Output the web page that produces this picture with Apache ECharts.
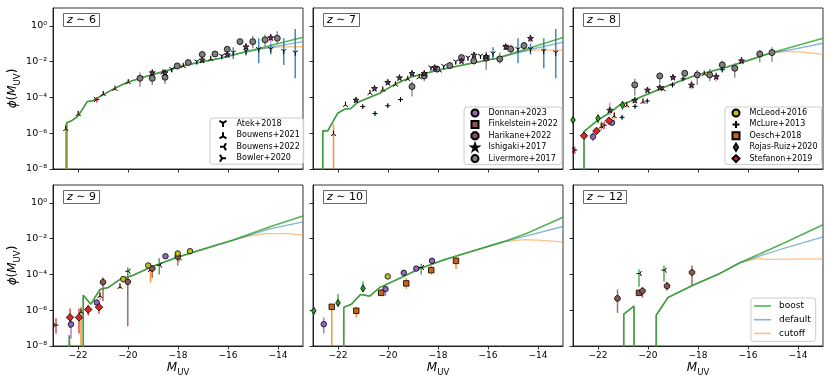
<!DOCTYPE html>
<html>
<head>
<meta charset="utf-8">
<script src="https://cdn.jsdelivr.net/npm/echarts@6/dist/echarts.min.js"></script>
<style>
  html, body { margin: 0; padding: 0; background: #fff; }
  #chart { width: 830px; height: 388px; }
</style>
</head>
<body>
<div id="chart"></div>
<script>
// model curves: [M_UV, log10 phi]  (-10 = below the plot, i.e. zero)
var base6 = [[-22.45,-10],[-22.45,-5.41],[-22.25,-5.30],[-21.99,-5.03],[-21.63,-4.23],[-21.39,-4.18],[-21.12,-3.95],[-20.52,-3.48],[-20.05,-3.17],[-19.39,-2.87],[-18.45,-2.50],[-17.65,-2.18],[-16.32,-1.81],[-15.5,-1.52]]
var boost6 = base6.concat([[-14.72,-1.25],[-13,-0.63]])
var default6 = base6.concat([[-14.72,-1.30],[-13,-0.88]])
var cutoff6 = base6.concat([[-14.5,-1.24],[-13.8,-1.17],[-13,-1.16]])

var base7 = [[-22.61,-10],[-22.61,-5.87],[-22.41,-5.87],[-22.01,-4.88],[-21.74,-4.66],[-21.48,-4.61],[-21.21,-4.27],[-20.34,-3.77],[-19.68,-3.23],[-19.01,-2.83],[-18.3,-2.58],[-17.8,-2.42],[-16.7,-2.1],[-15.66,-1.81]]
var boost7 = base7.concat([[-14.3,-1.22],[-13,-0.65]])
var default7 = base7.concat([[-14.3,-1.32],[-13,-0.91]])
var cutoff7 = base7.concat([[-14.8,-1.47],[-14.3,-1.36],[-13,-1.36]])

var base8 = [[-22.56,-10],[-22.56,-5.91],[-22.0,-5.26],[-21.46,-4.79],[-21.13,-4.42],[-20.73,-4.23],[-19.93,-3.77],[-19.13,-3.30],[-18.06,-2.74],[-17.0,-2.37],[-15.93,-1.90],[-15.13,-1.53]]
var boost8 = base8.concat([[-14.1,-1.12],[-13,-0.69]])
var default8 = base8.concat([[-14.1,-1.28],[-13,-0.97]])
var cutoff8 = base8.concat([[-14.5,-1.42],[-13.8,-1.47],[-13,-1.59]])

var base9 = [[-22.35,-10],[-22.35,-7.4],[-22.3,-10],[-21.79,-10],[-21.79,-5.16],[-21.49,-5.66],[-21.12,-4.84],[-20.79,-4.73],[-20.32,-4.28],[-19.79,-4.04],[-19.12,-3.61],[-18.05,-3.05],[-17.12,-2.64],[-15.79,-2.08]]
var boost9 = base9.concat([[-14.32,-1.34],[-13,-0.73]])
var default9 = base9.concat([[-14.32,-1.45],[-13,-1.06]])
var cutoff9 = base9.concat([[-15.2,-1.86],[-14.5,-1.72],[-13.6,-1.72],[-13,-1.80]])

var base10 = [[-21.77,-10],[-21.77,-5.84],[-21.46,-5.66],[-21.10,-5.12],[-20.73,-5.21],[-20.33,-4.73],[-19.4,-4.13],[-18.73,-3.67],[-17.8,-3.20],[-16.73,-2.74],[-15.40,-2.18]]
var boost10 = base10.concat([[-14.46,-1.71],[-13,-0.8]])
var default10 = base10.concat([[-14.46,-1.84],[-13,-1.32]])
var cutoff10 = base10.concat([[-14.6,-2.05],[-14.0,-2.08],[-13,-2.18]])

var base12 = [[-20.97,-10],[-20.97,-6.22],[-20.56,-5.77],[-20.56,-10],[-19.67,-10],[-19.67,-6.27],[-19.2,-5.29],[-18.2,-4.6],[-17.13,-3.95],[-16.33,-3.35]]
var boost12 = base12.concat([[-15.6,-2.9],[-14.6,-2.27],[-13,-1.22]])
var default12 = base12.concat([[-15.6,-3.0],[-14.6,-2.55],[-13,-1.9]])
var cutoff12 = base12.concat([[-15.6,-3.1],[-15.2,-3.16],[-13,-3.13]])

// observations: [M_UV, log10 phi, log10 lower, log10 upper]
var atek6 = [[-18.25,-2.46,-2.56,-2.36],[-17.25,-2.03,-2.13,-1.93],[-16.25,-1.72,-1.85,-1.6],[-15.79,-1.53,-1.85,-1.2],[-15.28,-1.45,-1.65,-1.25],[-14.77,-1.34,-2.09,-0.69],[-14.29,-1.34,-1.6,-1.0],[-13.77,-1.44,-2.18,-0.69],[-13.31,-1.53,-2.93,-0.17]]
var bouwens21_6 = [[-22.49,-5.72,-10,-5.45],[-21.99,-4.89,-5.02,-4.76],[-20.99,-3.77,-3.87,-3.67],[-20.52,-3.48,-3.56,-3.40],[-19.99,-3.11,-3.2,-3.02],[-18.6,-2.56,-2.66,-2.46],[-17.79,-2.2,-2.28,-2.12],[-16.69,-1.81,-1.9,-1.72]]
var bowler6 = [[-21.25,-4.12,-4.28,-3.97]]
var ishigaki6 = [[-19.03,-2.61,-2.7,-2.5],[-18.52,-2.61,-2.7,-2.5],[-17.03,-1.9,-2.0,-1.8],[-16.03,-1.6,-1.75,-1.45],[-15.28,-1.16,-1.4,-0.95],[-14.29,-0.65,-0.95,-0.45]]
var livermore6 = [[-19.52,-2.93,-3.4,-2.6],[-19.03,-2.93,-3.3,-2.6],[-18.52,-2.87,-3.25,-2.6],[-18.03,-2.24,-2.35,-2.12],[-17.59,-2.05,-2.15,-1.95],[-17.03,-1.6,-1.72,-1.48],[-16.52,-1.57,-1.7,-1.45],[-16.03,-1.31,-1.45,-1.17],[-15.52,-0.88,-1.05,-0.72],[-15.01,-0.88,-1.25,-0.55],[-14.52,-0.78,-1.15,-0.5],[-14.03,-0.69,-1.0,-0.3]]

var atek7 = [[-18.28,-2.37,-2.45,-2.29],[-17.77,-2.28,-2.36,-2.2],[-17.29,-2.03,-2.11,-1.95],[-16.8,-1.81,-1.9,-1.72],[-16.3,-1.71,-1.8,-1.62],[-15.8,-1.58,-1.9,-1.2],[-15.29,-1.2,-1.35,-1.05],[-14.8,-1.34,-2.09,-0.69],[-14.3,-1.34,-1.6,-1.0],[-13.77,-1.44,-2.37,-0.69],[-13.29,-1.53,-2.93,-0.17]]
var bouwens21_7 = [[-22.18,-6.0,-10,-5.5],[-21.70,-4.38,-4.48,-4.28],[-20.72,-3.71,-3.8,-3.62],[-20.21,-3.52,-3.6,-3.44],[-19.70,-3.24,-3.32,-3.16],[-19.21,-2.93,-3.0,-2.86],[-18.75,-2.83,-2.9,-2.76],[-17.95,-2.45,-2.52,-2.38]]
var ishigaki7 = [[-21.28,-4.14,-4.25,-4.03],[-20.54,-3.49,-3.57,-3.41],[-20.01,-3.15,-3.23,-3.07],[-19.54,-2.89,-2.97,-2.81],[-19.04,-2.65,-2.73,-2.57],[-18.55,-2.65,-2.73,-2.57],[-18.13,-2.33,-2.41,-2.25],[-17.06,-1.95,-2.05,-1.85],[-16.56,-1.62,-1.72,-1.52],[-16.07,-1.71,-1.81,-1.61],[-15.29,-1.16,-1.28,-1.04],[-14.3,-0.69,-0.95,-0.5]]
var mclure7 = [[-21.01,-4.51,-4.6,-4.42],[-20.52,-4.9,-5.0,-4.8],[-20.01,-4.46,-4.55,-4.37],[-19.50,-4.12,-4.2,-4.04]]
var livermore7 = [[-19.04,-3.39,-3.95,-3.1],[-18.55,-2.8,-3.1,-2.55],[-18.04,-2.41,-2.55,-2.28],[-17.53,-2.22,-2.4,-2.05],[-17.06,-1.77,-1.9,-1.65],[-16.57,-1.96,-2.15,-1.75],[-16.07,-1.8,-2.45,-1.45],[-15.53,-1.85,-2.1,-1.5],[-15.09,-1.29,-1.6,-1.05],[-14.56,-1.10,-1.4,-0.9]]

var rojas8 = [[-23.0,-5.26,-5.4,-5.1],[-22.0,-5.17,-5.45,-4.95],[-21.02,-4.42,-4.7,-4.2]]
var bowler8 = [[-22.93,-6.94,-7.15,-6.75],[-21.75,-5.55,-5.75,-5.35]]
var stefanon8 = [[-22.56,-6.14,-6.3,-6.0],[-22.06,-5.87,-6.05,-5.7],[-21.56,-5.3,-5.5,-5.15]]
var donnan8 = [[-22.2,-6.19,-6.45,-5.95],[-21.44,-5.41,-5.55,-5.25]]
var bouwens21_8 = [[-21.87,-5.59,-5.85,-5.35],[-21.35,-5.0,-5.2,-4.8],[-20.85,-4.4,-4.55,-4.25],[-20.2,-4.2,-4.35,-4.05],[-19.4,-3.5,-3.6,-3.35],[-17.75,-2.65,-2.75,-2.55]]
var ishigaki8 = [[-21.53,-4.7,-5.0,-4.3],[-20.53,-4.15,-4.3,-4.0],[-20.02,-3.58,-3.7,-3.45],[-19.53,-3.44,-3.55,-3.33],[-19.0,-2.87,-2.95,-2.78],[-18.26,-3.3,-3.55,-3.05],[-17.27,-2.83,-3.1,-2.6],[-16.26,-1.94,-2.1,-1.75]]
var mclure8 = [[-21.04,-5.11,-5.2,-5.02],[-20.52,-4.5,-4.58,-4.42],[-20.03,-4.2,-4.28,-4.12],[-19.02,-3.3,-3.38,-3.22],[-18.6,-2.96,-3.05,-2.88],[-17.03,-2.45,-2.6,-2.3]]
var livermore8 = [[-20.53,-3.30,-3.9,-2.95],[-19.53,-2.8,-3.2,-2.6],[-18.53,-2.65,-2.9,-2.5],[-18.03,-2.74,-3.3,-2.45],[-17.53,-2.74,-3.1,-2.4],[-17.03,-2.18,-2.45,-1.95],[-16.53,-2.37,-2.9,-2.1],[-15.53,-1.57,-2.05,-1.35],[-15.04,-1.49,-2.0,-1.2]]

var bowler9 = [[-22.88,-6.83,-7.3,-6.45]]
var stefanon9 = [[-22.32,-6.40,-7.0,-5.9],[-21.96,-6.40,-7.3,-5.9],[-21.59,-5.96,-6.3,-5.7],[-21.16,-5.83,-6.2,-5.6]]
var donnan9 = [[-22.28,-6.79,-7.6,-6.4],[-21.25,-5.57,-5.75,-5.4],[-18.5,-2.98,-3.1,-2.88]]
var bouwens21_9 = [[-21.88,-6.05,-10,-5.8],[-21.12,-5.16,-5.4,-4.95],[-20.32,-4.65,-4.8,-4.5],[-19.1,-3.7,-4.45,-3.55],[-17.95,-3.05,-3.3,-2.9]]
var harikane9 = [[-21.0,-4.43,-5.5,-4.15],[-20.01,-4.41,-6.9,-4.1],[-19.03,-3.67,-4.2,-3.5],[-18.01,-3.0,-3.5,-2.8]]
var mcleod9 = [[-20.19,-4.26,-4.45,-4.1],[-19.19,-3.5,-3.6,-3.4],[-18.01,-2.83,-2.92,-2.74],[-17.52,-2.70,-2.78,-2.62]]
var bouwens22_9 = [[-20.01,-3.82,-4.2,-3.6],[-18.75,-3.48,-4.0,-3.1]]

var rojas10 = [[-22.97,-6.03,-6.3,-5.8],[-22.0,-5.59,-5.8,-5.1],[-21.0,-4.78,-5.0,-4.4]]
var donnan10 = [[-22.57,-6.78,-7.3,-6.4],[-20.1,-4.82,-5.2,-4.6],[-19.37,-3.91,-4.0,-3.82],[-18.87,-3.67,-3.75,-3.59],[-18.24,-3.24,-3.35,-3.14]]
var oesch10 = [[-22.25,-5.81,-10,-5.7],[-21.27,-6.03,-6.4,-5.8],[-20.27,-5.03,-5.2,-4.8],[-19.27,-4.50,-4.8,-4.2],[-18.27,-3.76,-4.0,-3.5],[-17.28,-3.24,-3.7,-2.95]]
var mcleod10 = [[-20.01,-4.11,-4.25,-4.0]]
var bouwens22_10 = [[-18.67,-3.61,-4.0,-3.4]]

var harikane12 = [[-21.22,-5.34,-6.15,-4.84],[-20.22,-4.92,-5.3,-4.7],[-19.24,-4.65,-4.9,-4.4],[-18.24,-3.89,-4.6,-3.5]]
var finkelstein12 = [[-20.36,-5.03,-5.15,-4.9]]
var bouwens22_12 = [[-20.36,-3.95,-4.69,-3.72],[-19.36,-3.76,-4.41,-3.5]]

var zLabels = ['6', '7', '8', '9', '10', '12']
var xTicks = [-22, -20, -18, -16, -14]
var yTicks = [1e-8, 1e-6, 1e-4, 1e-2, 1]

// marker shapes
var TRI_DOWN = 'path://M0,0L0,1M0,0L-0.866,-0.5M0,0L0.866,-0.5'
var TRI_UP = 'path://M0,0L0,-1M0,0L-0.866,0.5M0,0L0.866,0.5'
var TRI_LEFT = 'path://M0,0L-1,0M0,0L0.5,-0.866M0,0L0.5,0.866'
var TRI_RIGHT = 'path://M0,0L1,0M0,0L-0.5,-0.866M0,0L-0.5,0.866'
var PLUS = 'path://M-1,0L1,0M0,-1L0,1'
var STAR = 'path://M0,-1L0.2245,-0.309L0.951,-0.309L0.363,0.118L0.588,0.809L0,0.382L-0.588,0.809L-0.363,0.118L-0.951,-0.309L-0.2245,-0.309Z'
var OCT = 'path://M-0.41,-1L0.41,-1L1,-0.41L1,0.41L0.41,1L-0.41,1L-1,0.41L-1,-0.41Z'
var THIN_D = 'path://M0,-1L0.6,0L0,1L-0.6,0Z'
var BOXX = 'path://M-1,-1L1,-1L1,1L-1,1Z'

var styles = {
    'Atek+2018':        {symbol: TRI_DOWN, size: 5, fill: '#000', err: '#1f77b4', bw: 1},
    'Bouwens+2021':     {symbol: TRI_UP, size: 5, fill: '#000', err: '#ff7f0e', bw: 1},
    'Bouwens+2022':     {symbol: TRI_LEFT, size: 5, fill: '#000', err: '#2ca02c', bw: 1},
    'Bowler+2020':      {symbol: TRI_RIGHT, size: 5, fill: '#000', err: '#d62728', bw: 1},
    'Donnan+2023':      {symbol: 'circle', size: 5.5, fill: '#9467bd', err: '#9467bd', bw: 0.8},
    'Finkelstein+2022': {symbol: 'rect', size: 5.5, fill: '#8c564b', err: '#8c564b', bw: 0.8},
    'Harikane+2022':    {symbol: OCT, size: 5.5, fill: '#8c564b', err: '#8c564b', bw: 0.8},
    'Ishigaki+2017':    {symbol: STAR, size: 6, fill: '#6e3462', err: '#e377c2', bw: 0.8},
    'Livermore+2017':   {symbol: 'circle', size: 6, fill: '#7f7f7f', err: '#7f7f7f', bw: 0.8},
    'McLeod+2016':      {symbol: 'circle', size: 5.5, fill: '#bcbd22', err: '#bcbd22', bw: 0.8},
    'McLure+2013':      {symbol: PLUS, size: 5, fill: '#000', err: '#17becf', bw: 1},
    'Oesch+2018':       {symbol: BOXX, size: 5.5, fill: '#c8641a', err: '#ff7f0e', bw: 0.8},
    'Rojas-Ruiz+2020':  {symbol: THIN_D, size: [4.5, 7], fill: '#2ca02c', err: '#2ca02c', bw: 0.8},
    'Stefanon+2019':    {symbol: 'diamond', size: 7.5, fill: '#d62728', err: '#d62728', bw: 0.8}
}

var panels = [
    {boost: boost6, def: default6, cut: cutoff6, points: [
        ['Atek+2018', atek6], ['Bouwens+2021', bouwens21_6], ['Bowler+2020', bowler6],
        ['Livermore+2017', livermore6], ['Ishigaki+2017', ishigaki6]]},
    {boost: boost7, def: default7, cut: cutoff7, points: [
        ['Atek+2018', atek7], ['Bouwens+2021', bouwens21_7], ['Livermore+2017', livermore7],
        ['Ishigaki+2017', ishigaki7], ['McLure+2013', mclure7]]},
    {boost: boost8, def: default8, cut: cutoff8, points: [
        ['Bouwens+2021', bouwens21_8], ['Bowler+2020', bowler8], ['Donnan+2023', donnan8],
        ['Livermore+2017', livermore8], ['Ishigaki+2017', ishigaki8], ['McLure+2013', mclure8],
        ['Rojas-Ruiz+2020', rojas8], ['Stefanon+2019', stefanon8]]},
    {boost: boost9, def: default9, cut: cutoff9, points: [
        ['Bouwens+2021', bouwens21_9], ['Bouwens+2022', bouwens22_9], ['Bowler+2020', bowler9],
        ['Donnan+2023', donnan9], ['Harikane+2022', harikane9], ['McLeod+2016', mcleod9],
        ['Stefanon+2019', stefanon9]]},
    {boost: boost10, def: default10, cut: cutoff10, points: [
        ['Bouwens+2022', bouwens22_10], ['Donnan+2023', donnan10], ['McLeod+2016', mcleod10],
        ['Oesch+2018', oesch10], ['Rojas-Ruiz+2020', rojas10]]},
    {boost: boost12, def: default12, cut: cutoff12, points: [
        ['Bouwens+2022', bouwens22_12], ['Finkelstein+2022', finkelstein12], ['Harikane+2022', harikane12]]}
]

var FONT = 'DejaVu Sans'
var gridPos = [[53, 8], [313, 8], [573, 8], [53, 185], [313, 185], [573, 185]]
var SUP = {'0': '\u2070', '1': '\u00b9', '2': '\u00b2', '4': '\u2074', '6': '\u2076', '8': '\u2078', '-': '\u207b'}

function supText(n) {
    return String(n).split('').map(function (c) { return SUP[c] }).join('')
}

function lineOf(arr) {
    return arr.map(function (p) { return [p[0], Math.pow(10, p[1])] })
}

function pointsOf(arr) {
    return arr.map(function (p) { return [p[0], Math.pow(10, p[1]), Math.pow(10, p[2]), Math.pow(10, p[3])] })
}

function errBar(params, api) {
    var x = api.value(0)
    var lo = api.coord([x, api.value(2)])
    var hi = api.coord([x, api.value(3)])
    return {
        type: 'line',
        shape: {x1: lo[0], y1: lo[1], x2: hi[0], y2: hi[1]},
        style: {stroke: api.visual('color'), lineWidth: 1.5, opacity: 0.85}
    }
}

var nameRich = {
    i: {fontFamily: FONT, fontStyle: 'italic', fontSize: 12, color: '#000', verticalAlign: 'top', lineHeight: 13},
    n: {fontFamily: FONT, fontSize: 12, color: '#000', verticalAlign: 'top', lineHeight: 13},
    s: {fontFamily: FONT, fontSize: 8.5, color: '#000', verticalAlign: 'top', lineHeight: 9, padding: [6, 0, 0, 0]}
}

var grids = [], xAxes = [], yAxes = [], titles = [], series = []

gridPos.forEach(function (g, i) {
    grids.push({left: g[0], top: g[1], width: 250, height: 161, show: true,
        borderColor: '#000', borderWidth: 0.8, backgroundColor: '#fff'})
    var bottom = i >= 3, left = i % 3 === 0
    xAxes.push({
        type: 'value', gridIndex: i, min: -23, max: -13,
        axisLine: {show: true, onZero: false, lineStyle: {color: '#000', width: 0.8}},
        axisTick: {show: true, length: 3.5, customValues: xTicks, lineStyle: {color: '#000', width: 0.8}},
        axisLabel: {show: bottom, customValues: xTicks, margin: 5, fontFamily: FONT, fontSize: 9, color: '#000',
            formatter: function (v) { return v < 0 ? '\u2212' + Math.abs(v) : String(v) }},
        splitLine: {show: false},
        name: bottom ? '{i|M}{s|UV}' : '', nameLocation: 'middle', nameGap: 16,
        nameTextStyle: {rich: nameRich}
    })
    yAxes.push({
        type: 'log', logBase: 10, gridIndex: i, min: 1e-8, max: 10,
        axisLine: {show: true, lineStyle: {color: '#000', width: 0.8}},
        axisTick: {show: true, length: 3.5, customValues: yTicks, lineStyle: {color: '#000', width: 0.8}},
        axisLabel: {show: left, customValues: yTicks, margin: 6, fontFamily: FONT, fontSize: 9.5, color: '#000',
            formatter: function (v) { return '10' + supText(Math.round(Math.log10(v))) }},
        splitLine: {show: false},
        name: left ? '{i|\u03d5}{n|(}{i|M}{s|UV}{n|)}' : '', nameLocation: 'middle', nameGap: 23, nameRotate: 90,
        nameTextStyle: {rich: nameRich}
    })
    titles.push({
        text: '{i|z}{n| \u223c ' + zLabels[i] + '}', left: g[0] + 10, top: g[1] + 5,
        padding: [2, 4, 1, 4], borderColor: '#666', borderWidth: 1, backgroundColor: '#fff',
        textStyle: {fontWeight: 'normal', rich: {
            i: {fontFamily: FONT, fontStyle: 'italic', fontWeight: 'normal', fontSize: 11, color: '#000'},
            n: {fontFamily: FONT, fontWeight: 'normal', fontSize: 11, color: '#000'}
        }}
    })
})

panels.forEach(function (p, i) {
    var lines = [['cutoff', p.cut, 'rgba(255,127,14,0.5)', 1.3],
                 ['default', p.def, 'rgba(31,119,180,0.55)', 1.3],
                 ['boost', p.boost, 'rgba(44,160,44,0.8)', 1.6]]
    lines.forEach(function (l) {
        series.push({type: 'line', name: l[0], xAxisIndex: i, yAxisIndex: i, data: lineOf(l[1]),
            symbol: 'none', clip: true, z: 2, silent: true,
            lineStyle: {color: l[2], width: l[3]}, itemStyle: {color: l[2]}})
    })
    p.points.forEach(function (e) {
        var st = styles[e[0]]
        var rows = pointsOf(e[1])
        series.push({type: 'scatter', name: e[0], xAxisIndex: i, yAxisIndex: i, data: rows,
            symbol: st.symbol, symbolSize: st.size, z: 4, clip: true,
            itemStyle: {color: st.fill, borderColor: '#000', borderWidth: st.bw, opacity: 1}})
        series.push({type: 'custom', name: e[0], xAxisIndex: i, yAxisIndex: i, data: rows,
            renderItem: errBar, encode: {x: 0, y: 1}, z: 3, clip: true,
            itemStyle: {color: st.err}})
    })
})

var legendBase = {
    orient: 'vertical', itemWidth: 7, itemHeight: 7, itemGap: 2.4, selectedMode: false,
    backgroundColor: 'rgba(255,255,255,0.85)', borderColor: '#cccccc', borderWidth: 1, borderRadius: 3,
    padding: [1.5, 4, 1.5, 6.5],
    textStyle: {fontFamily: FONT, fontSize: 8, lineHeight: 9, color: '#000', padding: [0, 0, 0, 5]}
}

function legendAt(names, left, top, extra) {
    return Object.assign({}, legendBase, {data: names, left: left, top: top}, extra || {})
}

var option = {
    animation: false,
    backgroundColor: '#fff',
    title: titles,
    grid: grids,
    xAxis: xAxes,
    yAxis: yAxes,
    legend: [
        legendAt(['Atek+2018', 'Bouwens+2021', 'Bouwens+2022', 'Bowler+2020'], 210, 118,
            {padding: [1.5, 4, 1.5, 8.5]}),
        legendAt(['Donnan+2023', 'Finkelstein+2022', 'Harikane+2022', 'Ishigaki+2017', 'Livermore+2017'], 464, 107),
        legendAt(['McLeod+2016', 'McLure+2013', 'Oesch+2018', 'Rojas-Ruiz+2020', 'Stefanon+2019'], 725, 107),
        legendAt([{name: 'boost', icon: 'rect'}, {name: 'default', icon: 'rect'}, {name: 'cutoff', icon: 'rect'}],
            751, 298, {itemWidth: 17, itemHeight: 1.6, itemGap: 3.7, padding: [3, 5, 3, 3],
            textStyle: {fontFamily: FONT, fontSize: 9, lineHeight: 10, color: '#000', padding: [0, 0, 0, 3]}})
    ],
    series: series
}

var myChart = echarts.init(document.getElementById('chart'), null, {renderer: 'canvas'})
myChart.setOption(option)
</script>
</body>
</html>
